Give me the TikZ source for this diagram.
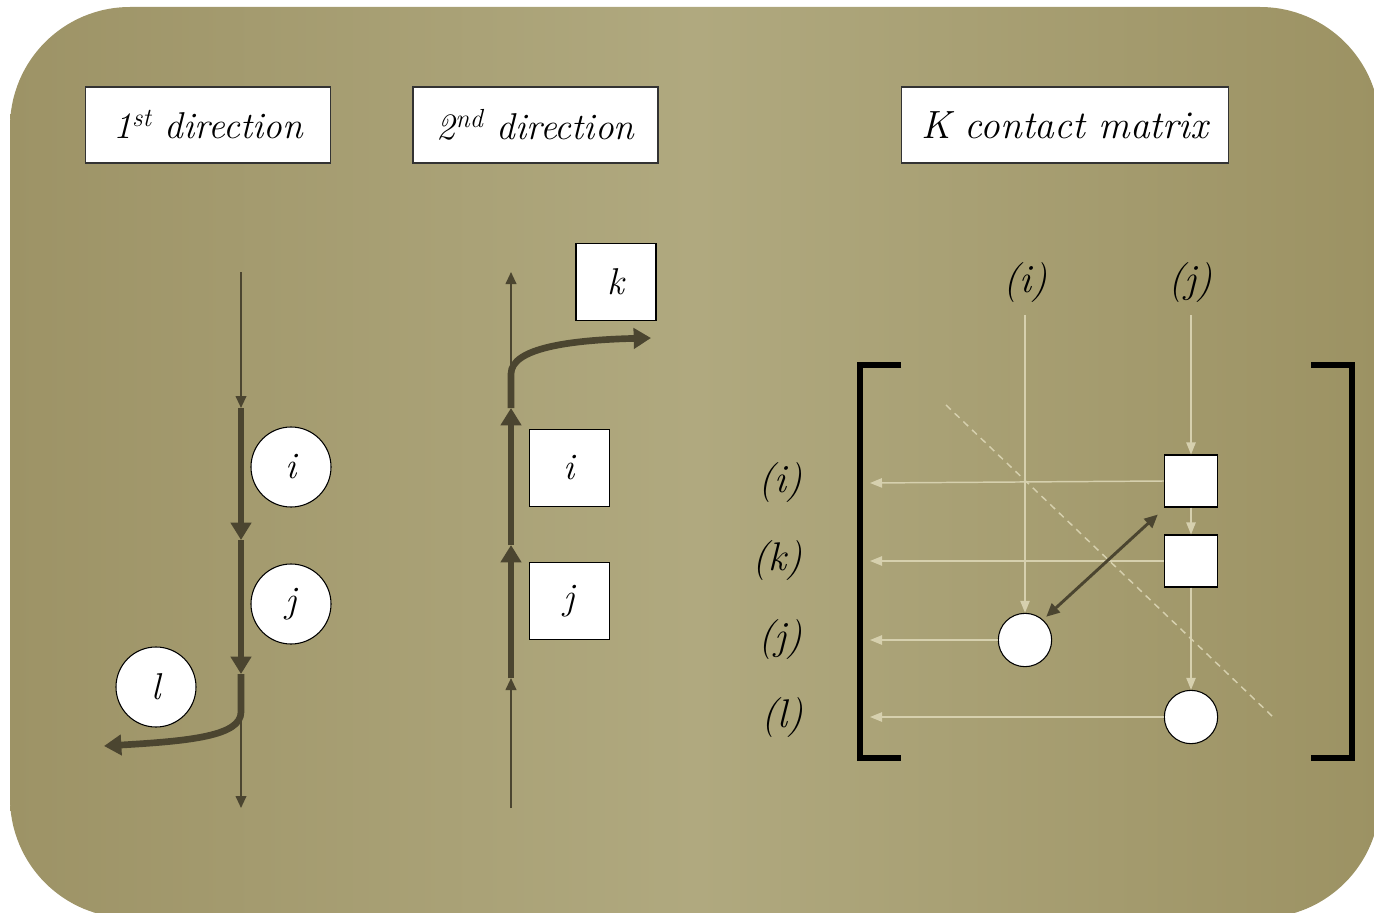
\documentclass[tikz,border=0pt]{standalone}
\usetikzlibrary{arrows.meta,calc}
\definecolor{bgl}{HTML}{9D9366}
\definecolor{bgm}{HTML}{B0A97F}
\definecolor{bgr}{HTML}{9C9263}
\definecolor{dk}{HTML}{4B4530}
\definecolor{lt}{HTML}{D6D0AE}
\definecolor{bx}{HTML}{333333}
\tikzset{
  thinln/.style={draw=dk, line width=1.4pt},
  thickln/.style={draw=dk, line width=5pt},
  tipS/.tip={Triangle[length=9pt,width=8pt]},
  tipB/.tip={Triangle[length=13pt,width=15pt]},
  title/.style={draw=bx, line width=1.1pt, fill=white, minimum width=184pt, minimum height=57pt, inner sep=0pt, font=\fontsize{28}{30}\selectfont\itshape},
  circ/.style={circle, draw=black, line width=0.8pt, fill=white, minimum size=60pt, inner sep=0pt, font=\fontsize{28}{30}\selectfont\itshape},
  sq/.style={draw=black, line width=0.8pt, fill=white, minimum width=60pt, minimum height=58pt, inner sep=0pt, font=\fontsize{28}{30}\selectfont\itshape},
  msq/.style={draw=black, line width=0.8pt, fill=white, minimum width=40pt, minimum height=39pt, inner sep=0pt},
  mcirc/.style={circle, draw=black, line width=0.8pt, fill=white, minimum size=40pt, inner sep=0pt},
  lab/.style={inner sep=0pt, font=\fontsize{30}{32}\selectfont\itshape},
  light/.style={draw=lt, line width=1.1pt},
  ltip/.tip={Triangle[length=9pt,width=7pt]},
  brk/.style={draw=black, line width=4pt},
}
\begin{document}
\begin{tikzpicture}[x=0.75pt,y=-0.75pt]
\useasboundingbox (0,0) rectangle (1374,913);
\shade[left color=bgl, right color=bgr, middle color=bgm, rounded corners=90pt] (10,7) rectangle (1380,918);

% titles
\node[title] (t1) at (208,125) {1\textsuperscript{st} direction};
\node[title] (t2) at (535.5,125) {2\textsuperscript{nd} direction};
\node[title, minimum width=245pt, font=\fontsize{29.5}{32}\selectfont\itshape] (t3) at (1065,125) {K contact matrix};

% ---------- first direction
\coordinate (a0) at (241,272);
\coordinate (a1) at (241,408);
\coordinate (a2) at (241,540);
\coordinate (a3) at (241,674);
\coordinate (a4) at (241,808);
\coordinate (a5) at (241,712);
\coordinate (a6) at (104,746);
\draw[thinln,-{tipS}] (a0) -- (a1);
\draw[thinln,-{tipS}] (a3) -- (a4);
\draw[thickln,-{tipB}] (a1) -- (a2);
\draw[thickln,-{tipB}] (a2) -- (a3);
\draw[thickln,-{tipB}] (a3) -- (a5) .. controls (241,736) and (190,741) .. (a6);
\node[circ] (ci) at (291,467) {i};
\node[circ] (cj) at (291,604) {j};
\node[circ] (cl) at (156,687) {l};

% ---------- second direction
\coordinate (b0) at (511,808);
\coordinate (b1) at (511,678);
\coordinate (b2) at (511,545);
\coordinate (b3) at (511,408);
\coordinate (b4) at (511,374);
\coordinate (b5) at (511,272);
\coordinate (b6) at (651,338);
\draw[thinln,-{tipS}] (b0) -- (b1);
\draw[thinln,-{tipS}] (b4) -- (b5);
\draw[thickln,-{tipB}] (b1) -- (b2);
\draw[thickln,-{tipB}] (b2) -- (b3);
\draw[thickln,-{tipB}] (b3) -- (b4) .. controls (511,348) and (570,340) .. (b6);
\node[sq] (sk) at (616,282) {k};
\node[sq] (si) at (569.5,468) {i};
\node[sq] (sj) at (569.5,601) {j};

% ---------- K contact matrix
\draw[brk] (901,365) -- (860,365) -- (860,758) -- (901,758);
\draw[brk] (1311,365) -- (1352,365) -- (1352,758) -- (1311,758);

\node[lab] (ci2) at (1025,283) {(i)};
\node[lab] (cj2) at (1190,283) {(j)};
\node[lab] (ri) at (780,483) {(i)};
\node[lab] (rk) at (777,561) {(k)};
\node[lab] (rj) at (780,640) {(j)};
\node[lab] (rl) at (782,718) {(l)};

\node[msq] (m1) at (1191,481) {};
\node[msq] (m2) at (1191,561) {};
\node[mcirc] (o1) at (1025,640) {};
\node[mcirc] (o2) at (1191,717) {};

\coordinate (e1) at (870,483);
\coordinate (e2) at (870,561);
\coordinate (e3) at (870,640);
\coordinate (e4) at (870,717);
\coordinate (v1) at (1025,315);
\coordinate (v2) at (1191,315);

\draw[light,dashed,dash pattern=on 5pt off 4pt] (946,405) -- (1272,716);

\draw[light,-{ltip}] (v1) -- (o1.north);
\draw[light,-{ltip}] (v2) -- (m1.north);
\draw[light,-{ltip}] (m1.south) -- (m2.north);
\draw[light,-{ltip}] (m2.south) -- (o2.north);
\draw[light,-{ltip}] (m1.west) -- (e1);
\draw[light,-{ltip}] (m2.west) -- (e2);
\draw[light,-{ltip}] (o1.west) -- (e3);
\draw[light,-{ltip}] (o2.west) -- (e4);

\draw[draw=dk, line width=2.2pt, {Triangle[length=10pt,width=9pt]}-{Triangle[length=10pt,width=9pt]}] ($(m1.south west)+(-6,7)$) -- ($(o1.north east)+(2,-4)$);
\end{tikzpicture}
\end{document}
